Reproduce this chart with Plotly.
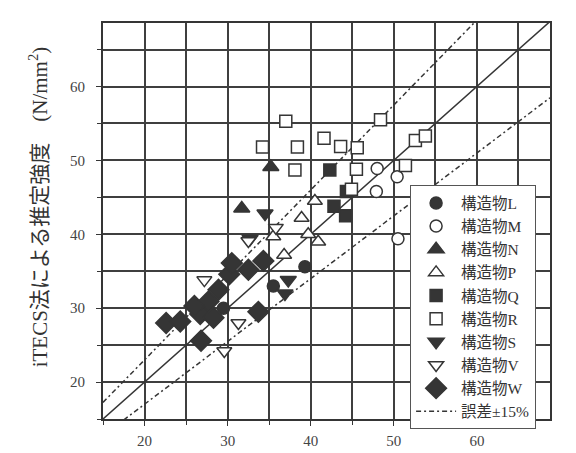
import plotly.graph_objects as go

# ---- data ----
L_x = [39.3, 35.5, 29.5]
L_y = [35.6, 33.0, 30.0]
M_x = [48.0, 50.4, 47.9, 50.5]
M_y = [48.9, 47.8, 45.8, 39.4]
N_x = [35.2, 31.7]
N_y = [49.1, 43.5]
P_x = [38.9, 40.5, 35.5, 40.9, 36.8, 39.7]
P_y = [42.2, 44.5, 39.7, 39.0, 37.2, 40.0]
Q_x = [42.3, 44.3, 42.8, 44.2]
Q_y = [48.7, 45.8, 43.8, 42.5]
R_x = [37.0, 34.2, 38.4, 38.1, 41.6, 43.6, 45.6, 48.4, 45.5, 44.9, 51.4, 52.6, 53.8]
R_y = [55.3, 51.8, 51.8, 48.7, 53.0, 51.9, 51.7, 55.5, 48.8, 46.1, 49.3, 52.7, 53.3]
S_x = [34.5, 37.3, 36.9, 32.7]
S_y = [42.8, 33.8, 32.0, 39.4]
V_x = [31.3, 29.6, 32.5, 27.2, 35.8]
V_y = [28.0, 24.2, 39.1, 33.8, 40.9]
W_x = [22.6, 24.3, 26.8, 26.7, 27.7, 28.9, 30.2, 30.5, 32.5, 34.3, 33.7, 26.0, 28.3]
W_y = [28.0, 28.2, 25.6, 29.2, 30.9, 32.5, 34.6, 36.1, 35.2, 36.4, 29.5, 30.3, 28.7]

series_names = ["構造物L", "構造物M", "構造物N", "構造物P", "構造物Q",
                "構造物R", "構造物S", "構造物V", "構造物W"]
err_label = "誤差±15%"
ticks = [20, 30, 40, 50, 60]
line_span = [15, 68.8]
err_ratio = 0.15

DARK = "#353535"
GRID = "#3f3f3f"
FONT = "Liberation Serif, Noto Sans CJK JP, serif"

series = [
    (L_x, L_y, "circle", True, 12),
    (M_x, M_y, "circle", False, 12),
    (N_x, N_y, "triangle-up", True, 14),
    (P_x, P_y, "triangle-up", False, 13),
    (Q_x, Q_y, "square", True, 12),
    (R_x, R_y, "square", False, 12),
    (S_x, S_y, "triangle-down", True, 14),
    (V_x, V_y, "triangle-down", False, 13),
    (W_x, W_y, "diamond", True, 16),
]

fig = go.Figure()

# reference lines
fig.add_trace(go.Scatter(x=line_span, y=line_span, mode="lines",
                         line=dict(color=DARK, width=1.5), showlegend=False, hoverinfo="skip"))
fig.add_trace(go.Scatter(x=line_span, y=[v * (1 + err_ratio) for v in line_span], mode="lines",
                         line=dict(color=DARK, width=1.5, dash="5px,3px,2px,3px"),
                         name=err_label, legendrank=100, hoverinfo="skip"))
fig.add_trace(go.Scatter(x=line_span, y=[v * (1 - err_ratio) for v in line_span], mode="lines",
                         line=dict(color=DARK, width=1.5, dash="5px,3px,2px,3px"),
                         showlegend=False, hoverinfo="skip"))

for i, ((xs, ys, sym, filled, size), nm) in enumerate(zip(series, series_names)):
    fig.add_trace(go.Scatter(
        x=xs, y=ys, mode="markers", name=nm, legendrank=i + 1,
        marker=dict(symbol=sym, size=size,
                    color=DARK if filled else "white",
                    line=dict(color=DARK, width=1.5)),
    ))

axis_common = dict(
    tickvals=ticks, ticks="outside", ticklen=5, tickcolor=DARK, tickwidth=1.3,
    showgrid=True, gridcolor=GRID, gridwidth=1.6,
    minor=dict(dtick=5, tick0=15, showgrid=True, gridcolor=GRID, gridwidth=1.6,
               ticks="outside", ticklen=4, tickcolor=DARK),
    showline=True, linecolor=DARK, linewidth=1.8, mirror=True,
    zeroline=False,
    tickfont=dict(family=FONT, size=15, color="#444"),
)

fig.update_xaxes(range=[15, 68.8], ticklabelstandoff=2, **axis_common)
fig.update_yaxes(range=[15, 68.6], ticklabelstandoff=8, **axis_common)

fig.add_annotation(
    text="iTECS法による推定強度　(N/mm<sup>2</sup>)",
    xref="paper", yref="paper", x=-0.145, y=0.535,
    xanchor="center", yanchor="middle", textangle=-90, showarrow=False,
    font=dict(family=FONT, size=21, color="#333"),
)

fig.update_layout(
    width=576, height=453,
    margin=dict(l=95, r=34, t=15, b=25),
    paper_bgcolor="white", plot_bgcolor="white",
    font=dict(family=FONT, color="#333"),
    legend=dict(
        x=0.687, y=0.59, xanchor="left", yanchor="top",
        bgcolor="white", bordercolor="#555", borderwidth=1,
        font=dict(family=FONT, size=15.5, color="#333"),
        tracegroupgap=0, itemwidth=40,
    ),
)

fig.write_html("out.html")
